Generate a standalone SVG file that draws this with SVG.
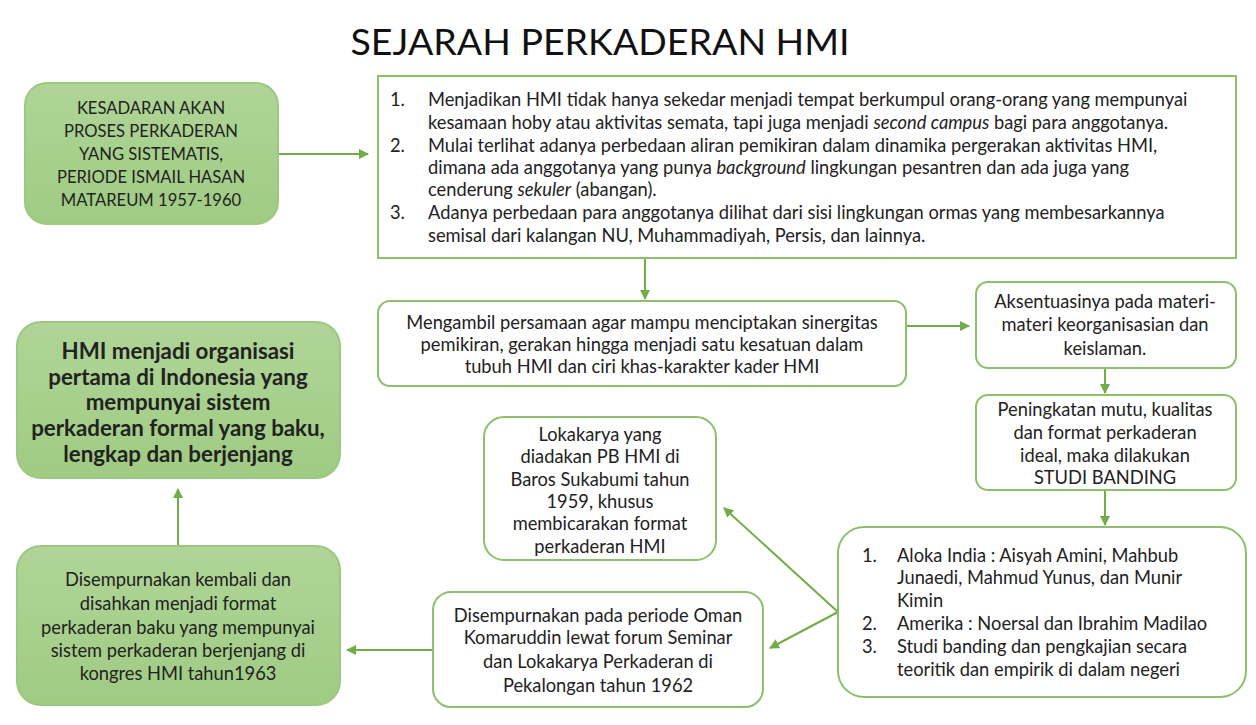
<svg xmlns="http://www.w3.org/2000/svg" width="1256" height="725" viewBox="0 0 1256 725">
<defs>
<marker id="ah" viewBox="0 0 10 10" refX="9" refY="5" markerWidth="5" markerHeight="5" orient="auto">
<path d="M0,0 L10,5 L0,10 z" fill="#70ad47"/>
</marker>
<linearGradient id="gf" x1="0" y1="0" x2="0" y2="1">
<stop offset="0" stop-color="#b0d597"/>
<stop offset="1" stop-color="#9fcb83"/>
</linearGradient>
</defs>
<style>
text{font-family:Lato,"Open Sans","Liberation Sans",sans-serif;fill:#222;font-size:18.3px}
.c{text-anchor:middle}
.g{fill:url(#gf);stroke:#9cc980;stroke-width:2}
.w{fill:#fff;stroke:#8dbf6d;stroke-width:2}
.cn{stroke:#70ad47;stroke-width:2;fill:none;marker-end:url(#ah)}
.b{font-weight:bold;font-size:22.3px}
.u{font-size:16.6px}
</style>
<rect width="1256" height="725" fill="#fff"/>
<text x="600" y="55" class="c" style="font-size:37.5px;fill:#111">SEJARAH PERKADERAN HMI</text>

<g id="connectors">
<line class="cn" x1="278" y1="154" x2="368" y2="154"/>
<line class="cn" x1="645" y1="258" x2="645" y2="299"/>
<line class="cn" x1="906" y1="326" x2="969" y2="326"/>
<line class="cn" x1="1105" y1="368" x2="1105" y2="393"/>
<line class="cn" x1="1105" y1="490" x2="1105" y2="525"/>
<line class="cn" x1="838" y1="612" x2="724" y2="508"/>
<line class="cn" x1="838" y1="612" x2="770" y2="648"/>
<line class="cn" x1="433" y1="650" x2="347" y2="650"/>
<line class="cn" x1="178" y1="546" x2="178" y2="489"/>
</g>

<g id="n1">
<rect class="g" x="25" y="83" width="253" height="141" rx="22"/>
<text class="c u" x="151" y="114">KESADARAN AKAN</text>
<text class="c u" x="151" y="137">PROSES PERKADERAN</text>
<text class="c u" x="151" y="160">YANG SISTEMATIS,</text>
<text class="c u" x="151" y="183">PERIODE ISMAIL HASAN</text>
<text class="c u" x="151" y="206">MATAREUM 1957-1960</text>
</g>

<g id="n2">
<rect class="w" x="378" y="76" width="858" height="182"/>
<text x="390" y="106">1.</text>
<text x="428" y="106">Menjadikan HMI tidak hanya sekedar menjadi tempat berkumpul orang-orang yang mempunyai</text>
<text x="428" y="129">kesamaan hoby atau aktivitas semata, tapi juga menjadi <tspan font-style="italic">second campus</tspan> bagi para anggotanya.</text>
<text x="390" y="152">2.</text>
<text x="428" y="152">Mulai terlihat adanya perbedaan aliran pemikiran dalam dinamika pergerakan aktivitas HMI,</text>
<text x="428" y="174">dimana ada anggotanya yang punya <tspan font-style="italic">background</tspan> lingkungan pesantren dan ada juga yang</text>
<text x="428" y="196">cenderung <tspan font-style="italic">sekuler</tspan> (abangan).</text>
<text x="390" y="219">3.</text>
<text x="428" y="219">Adanya perbedaan para anggotanya dilihat dari sisi lingkungan ormas yang membesarkannya</text>
<text x="428" y="242">semisal dari kalangan NU, Muhammadiyah, Persis, dan lainnya.</text>
</g>

<g id="n3">
<rect class="w" x="378" y="301" width="528" height="85" rx="12"/>
<text class="c" x="642" y="329">Mengambil persamaan agar mampu menciptakan sinergitas</text>
<text class="c" x="642" y="351">pemikiran, gerakan hingga menjadi satu kesatuan dalam</text>
<text class="c" x="642" y="373">tubuh HMI dan ciri khas-karakter kader HMI</text>
</g>

<g id="n4">
<rect class="w" x="976" y="282" width="260" height="86" rx="12"/>
<text class="c" x="1105" y="308">Aksentuasinya pada materi-</text>
<text class="c" x="1105" y="331">materi keorganisasian dan</text>
<text class="c" x="1105" y="355">keislaman.</text>
</g>

<g id="n5">
<rect class="w" x="976" y="395" width="260" height="95" rx="12"/>
<text class="c" x="1105" y="416">Peningkatan mutu, kualitas</text>
<text class="c" x="1105" y="439">dan format perkaderan</text>
<text class="c" x="1105" y="462">ideal, maka dilakukan</text>
<text class="c" x="1105" y="484">STUDI BANDING</text>
</g>

<g id="n6">
<rect class="w" x="838" y="527" width="408" height="170" rx="26"/>
<text x="862" y="562">1.</text>
<text x="897" y="562">Aloka India : Aisyah Amini, Mahbub</text>
<text x="897" y="584">Junaedi, Mahmud Yunus, dan Munir</text>
<text x="897" y="607">Kimin</text>
<text x="862" y="630">2.</text>
<text x="897" y="630">Amerika : Noersal dan Ibrahim Madilao</text>
<text x="862" y="653">3.</text>
<text x="897" y="653">Studi banding dan pengkajian secara</text>
<text x="897" y="676">teoritik dan empirik di dalam negeri</text>
</g>

<g id="n7">
<rect class="w" x="484" y="417" width="232" height="143" rx="20"/>
<text class="c" x="600" y="441">Lokakarya yang</text>
<text class="c" x="600" y="463">diadakan PB HMI di</text>
<text class="c" x="600" y="486">Baros Sukabumi tahun</text>
<text class="c" x="600" y="508">1959, khusus</text>
<text class="c" x="600" y="530">membicarakan format</text>
<text class="c" x="600" y="553">perkaderan HMI</text>
</g>

<g id="n8">
<rect class="w" x="433" y="592" width="330" height="115" rx="18"/>
<text class="c" x="598" y="622">Disempurnakan pada periode Oman</text>
<text class="c" x="598" y="644">Komaruddin lewat forum Seminar</text>
<text class="c" x="598" y="668">dan Lokakarya Perkaderan di</text>
<text class="c" x="598" y="692">Pekalongan tahun 1962</text>
</g>

<g id="n9">
<rect class="g" x="17" y="546" width="323" height="159" rx="24"/>
<text class="c" x="178" y="586">Disempurnakan kembali dan</text>
<text class="c" x="178" y="610">disahkan menjadi format</text>
<text class="c" x="178" y="634">perkaderan baku yang mempunyai</text>
<text class="c" x="178" y="657">sistem perkaderan berjenjang di</text>
<text class="c" x="178" y="680">kongres HMI tahun1963</text>
</g>

<g id="n10">
<rect class="g" x="17" y="322" width="323" height="156" rx="24"/>
<text class="c b" x="178" y="359">HMI menjadi organisasi</text>
<text class="c b" x="178" y="385">pertama di Indonesia yang</text>
<text class="c b" x="178" y="410">mempunyai sistem</text>
<text class="c b" x="178" y="436">perkaderan formal yang baku,</text>
<text class="c b" x="178" y="462">lengkap dan berjenjang</text>
</g>
</svg>
